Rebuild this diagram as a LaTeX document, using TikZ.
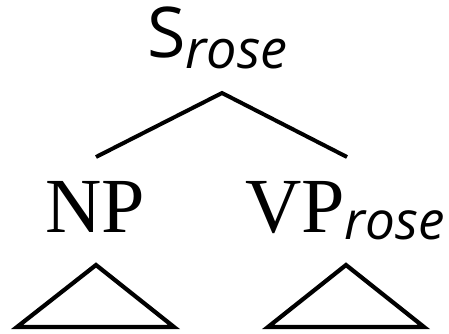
\documentclass[tikz,border=0pt]{standalone}
\usepackage{fontspec}
\setmainfont{Liberation Serif}
\newfontfamily\labsans{Open Sans}
\newfontfamily\labsansit{Open Sans Italic}
\begin{document}
\begin{tikzpicture}[x=1pt,y=-1pt]
\tikzset{
  branch/.style={line width=4pt, black},
  tri/.style={line width=4.2pt, black, line join=miter},
  cat/.style={inner sep=0pt, anchor=base west, font=\fontsize{78}{78}\selectfont}
}
\useasboundingbox (0,0) rectangle (449,334);
\node[cat] (S) at (147,58) {\labsans\fontsize{70}{70}\selectfont S\raisebox{-11pt}{\labsansit\fontsize{54}{54}\selectfont rose}};
\coordinate (top) at (222,93);
\coordinate (l) at (96,157);
\coordinate (r) at (347,157);
\draw[branch] (l) -- (top) -- (r);
\node[cat] (NP) at (45,232) {NP};
\node[cat] (VP) at (245,232) {VP\raisebox{-7pt}{\labsansit\fontsize{53}{53}\selectfont rose}};
\coordinate (la) at (96,265);
\coordinate (lb) at (17,327);
\coordinate (lc) at (174,327);
\coordinate (ra) at (346,265);
\coordinate (rb) at (268,327);
\coordinate (rc) at (424,327);
\draw[tri] (la) -- (lb) -- (lc) -- cycle;
\draw[tri] (ra) -- (rb) -- (rc) -- cycle;
\end{tikzpicture}
\end{document}
